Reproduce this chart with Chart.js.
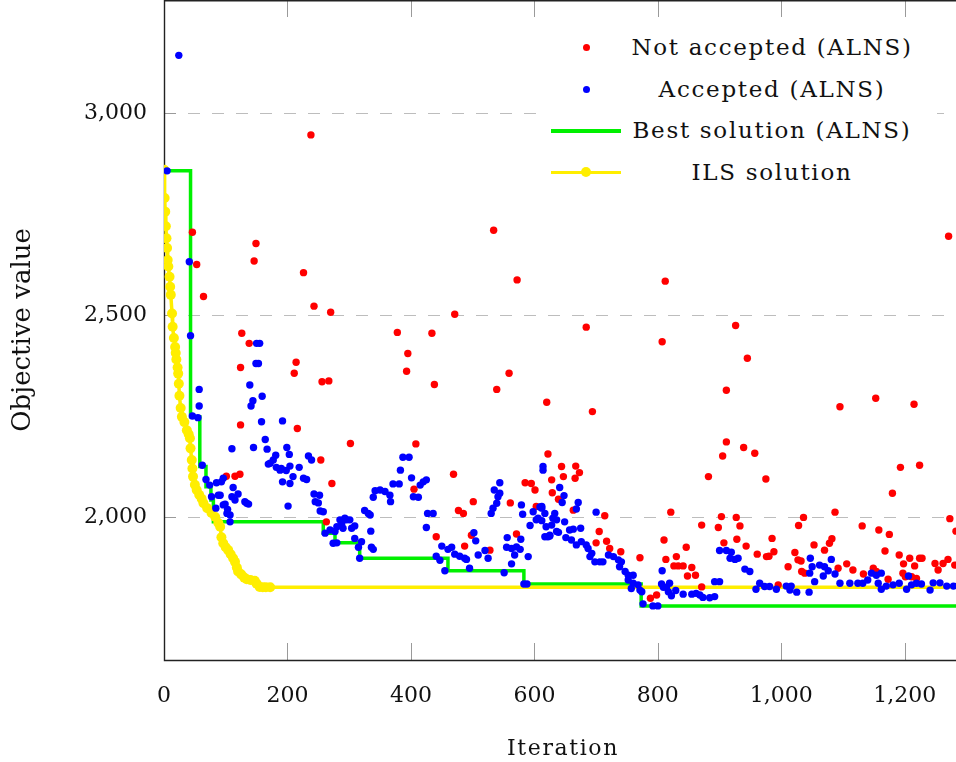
<!DOCTYPE html>
<html>
<head>
<meta charset="utf-8">
<script src="https://cdn.jsdelivr.net/npm/chart.js@4.4.1/dist/chart.umd.min.js"></script>
<style>
  body { margin: 0; background: #fff; }
  #wrap { position: relative; width: 956px; height: 762px; overflow: hidden; }
  #legend { position: absolute; left: 545px; top: 27px; width: 392px; height: 166px; background: #fff;
            font-family: "DejaVu Serif", serif; font-size: 23px; letter-spacing: 1.7px; color: #111; }
  .row { position: relative; height: 41.5px; }
  .key { position: absolute; left: 6px; width: 70px; top: 0; height: 100%; }
  .lab { position: absolute; left: 80px; width: 294px; top: 0; height: 100%; line-height: 41.5px; text-align: center; white-space: nowrap; }
  .dot { position: absolute; width: 7px; height: 7px; border-radius: 50%; left: 31.5px; top: 17.25px; }
  .line { position: absolute; left: 0; width: 70px; height: 3.5px; top: 19px; }
  .bigdot { position: absolute; width: 10px; height: 10px; border-radius: 50%; left: 30px; top: 15.75px; }
</style>
</head>
<body>
<div id="wrap">
  <canvas id="myChart" width="956" height="762"></canvas>
  <div id="legend">
    <div class="row"><span class="key"><span class="dot" style="background:#ff0000"></span></span><span class="lab">Not accepted (ALNS)</span></div>
    <div class="row"><span class="key"><span class="dot" style="background:#0000ff"></span></span><span class="lab">Accepted (ALNS)</span></div>
    <div class="row"><span class="key"><span class="line" style="background:#00f000"></span></span><span class="lab">Best solution (ALNS)</span></div>
    <div class="row"><span class="key"><span class="line" style="background:#ffee00"></span><span class="bigdot" style="background:#ffee00"></span></span><span class="lab">ILS solution</span></div>
  </div>
</div>
<script>
// [iteration, objective]
const notAccepted = [
    [238, 2946], [46, 2705], [53, 2625], [149, 2677], [146, 2634], [64, 2546], [226, 2605], [243, 2522],
    [270, 2507], [126, 2455], [138, 2430], [534, 2710], [572, 2587], [812, 2584], [1271, 2695],
    [124, 2370], [214, 2383], [211, 2356], [256, 2335], [267, 2337], [124, 2228], [216, 2219], [254, 2141],
    [302, 2182], [101, 2101], [115, 2101], [123, 2106], [272, 2083], [263, 1988],
    [471, 2502], [378, 2457], [434, 2455], [395, 2405], [393, 2361], [438, 2328], [559, 2356], [539, 2316],
    [620, 2284], [408, 2181], [469, 2106], [405, 2069], [501, 2038], [477, 2016], [485, 2009], [561, 2035],
    [441, 1951], [487, 1928], [498, 1955], [528, 1918], [571, 1958], [585, 2085], [595, 2083], [601, 2067],
    [603, 2026], [622, 2156],
    [684, 2470], [926, 2474], [807, 2434], [945, 2393], [911, 2314], [694, 2261], [911, 2186], [905, 2151],
    [939, 2172], [644, 2125], [647, 2100], [667, 2126], [673, 2110], [666, 2096], [628, 2092], [629, 2060],
    [882, 2100], [639, 2044], [663, 2017], [714, 2003], [821, 2012], [705, 1964], [717, 1940], [722, 1922],
    [740, 1914], [700, 1936], [771, 1899], [788, 1799], [798, 1807], [810, 1943], [813, 1895], [830, 1902],
    [846, 1925], [826, 1879], [833, 1879], [841, 1879], [855, 1875], [848, 1854], [861, 1856], [871, 1827],
    [871, 1980], [903, 2001], [898, 1974], [927, 1999], [933, 1978], [928, 1945], [943, 1928], [907, 1936],
    [1095, 2273], [1153, 2294], [1215, 2279], [957, 2158], [975, 2094], [1193, 2123], [1224, 2128], [1180, 2059],
    [1036, 1999], [1028, 1979], [1087, 2012], [1131, 1978], [1273, 1996], [1283, 1965], [1158, 1968], [1175, 1957],
    [1168, 1916], [961, 1908], [976, 1902], [980, 1903], [985, 1947], [988, 1914], [1053, 1931], [1070, 1918],
    [1078, 1935], [1082, 1946], [1022, 1912], [1027, 1894], [1032, 1891], [1011, 1877], [1033, 1865], [1038, 1861],
    [1092, 1873], [1106, 1884], [1116, 1869], [1133, 1859], [1191, 1906], [1198, 1884], [1208, 1898], [1216, 1879],
    [1224, 1898], [1228, 1898], [1211, 1852], [1219, 1848], [1197, 1861], [1201, 1852], [1173, 1846], [1249, 1885],
    [1254, 1869], [1262, 1885], [1270, 1895], [1281, 1881], [995, 1832], [1149, 1873], [1154, 1865]
];

const accepted = [
    [5, 2857], [24, 3143], [41, 2632], [43, 2449], [150, 2430], [155, 2430],
    [149, 2380], [153, 2380], [57, 2316], [139, 2327], [144, 2288], [141, 2275], [159, 2299], [57, 2275],
    [46, 2250], [55, 2246], [158, 2236], [192, 2238], [164, 2192], [110, 2169], [145, 2172], [167, 2168],
    [199, 2172], [203, 2155], [181, 2153], [177, 2141], [169, 2131], [234, 2151], [239, 2141], [62, 2128],
    [182, 2123], [190, 2120], [198, 2115], [204, 2126], [219, 2123], [209, 2100], [226, 2096], [231, 2093],
    [192, 2087], [204, 2083], [68, 2093], [74, 2079], [85, 2085], [93, 2087], [96, 2096], [112, 2073],
    [120, 2057], [110, 2050], [91, 2054], [77, 2050], [88, 2054], [115, 2042], [134, 2034], [131, 2038],
    [137, 2032], [96, 2030], [201, 2027], [243, 2057], [252, 2054], [245, 2038], [250, 2035], [253, 2015],
    [258, 2013], [84, 2022], [99, 2032], [103, 2019], [102, 2009], [107, 2005], [107, 1988], [261, 1960],
    [269, 1968], [280, 1976], [288, 1984], [296, 1993], [280, 1936], [172, 2133], [188, 2116],
    [387, 2148], [397, 2148], [383, 2116], [401, 2097], [420, 2087], [425, 2092], [415, 2079], [371, 2082],
    [381, 2082], [342, 2065], [350, 2067], [358, 2063], [366, 2054], [339, 2049], [367, 2038], [404, 2050],
    [412, 2049], [325, 2016], [331, 2009], [334, 2005], [427, 2009], [436, 2009], [425, 1974], [285, 1993],
    [293, 1997], [301, 1993], [290, 1972], [304, 1972], [309, 1978], [277, 1964], [274, 1935], [309, 1947],
    [320, 1939], [315, 1925], [335, 1965], [336, 1925], [339, 1920], [317, 1898], [502, 1961], [505, 1941],
    [450, 1928], [460, 1920], [466, 1925], [471, 1908], [479, 1903], [490, 1895], [487, 1898], [495, 1873],
    [455, 1867], [441, 1903], [447, 1893], [509, 1906], [520, 1917], [525, 1898], [551, 1862], [556, 1949],
    [555, 1925], [563, 1922], [571, 1926], [577, 1920], [578, 1945], [568, 1906], [563, 1884], [590, 1902],
    [583, 1834], [588, 1834], [530, 2009], [533, 2022], [539, 2034], [541, 2050], [544, 2059], [535, 2067],
    [544, 2085], [579, 2030], [581, 2007], [593, 1979], [598, 2013], [606, 1997], [612, 2022], [617, 2009],
    [614, 2125], [614, 2116], [619, 1976], [617, 1951], [609, 2025], [625, 1955], [633, 2009], [636, 1964],
    [641, 2073], [648, 2053], [645, 2036], [671, 2036], [668, 2020], [612, 2026], [603, 1993], [612, 1991],
    [630, 1997], [636, 1993], [628, 1980], [700, 2012], [625, 1953], [622, 1951], [639, 1962], [649, 1988],
    [651, 1949], [657, 1968], [663, 1970], [675, 1972], [660, 1943], [668, 1931], [676, 1939], [684, 1931],
    [687, 1922], [693, 1910], [690, 1902], [698, 1889], [706, 1889], [711, 1889], [720, 1906], [728, 1902],
    [736, 1894], [741, 1889], [738, 1877], [747, 1865], [752, 1856], [760, 1856], [752, 1844], [760, 1836],
    [768, 1832], [771, 1819], [757, 1823], [774, 1815], [776, 1785], [792, 1780], [800, 1780], [807, 1867],
    [806, 1834], [814, 1826], [819, 1836], [817, 1815], [809, 1826], [822, 1805], [829, 1818], [841, 1809],
    [855, 1809], [862, 1811], [868, 1807], [873, 1801], [884, 1800], [892, 1803], [892, 1840], [900, 1840],
    [900, 1917], [911, 1917], [919, 1913], [917, 1898], [925, 1895], [930, 1898], [941, 1871], [949, 1865],
    [959, 1821], [965, 1836], [973, 1828], [981, 1828], [992, 1821], [1008, 1829], [1016, 1829], [1014, 1819],
    [1025, 1814], [1045, 1814], [1047, 1898], [1050, 1877], [1062, 1881], [1070, 1877], [1046, 1861], [1054, 1840],
    [1068, 1854], [1081, 1895], [1076, 1867], [1087, 1859], [1095, 1836], [1111, 1836], [1124, 1836], [1132, 1836],
    [1140, 1844], [1146, 1861], [1154, 1856], [1162, 1861], [1157, 1836], [1162, 1821], [1170, 1829], [1181, 1832],
    [1191, 1836], [1203, 1821], [1206, 1854], [1211, 1832], [1219, 1836], [1227, 1834], [1241, 1819], [1246, 1837],
    [1257, 1837], [1268, 1829], [1279, 1829]
];

// best solution so far: [iteration where it improves, new value]
const bestIter = [0, 43, 58, 68, 76, 80, 258, 277, 317, 460, 583, 773, 1300];
const bestObj = [2857, 2248, 2125, 2075, 2042, 1988, 1960, 1936, 1898, 1867, 1834, 1780, 1780];

const ilsIter = [0, 1, 2, 3, 4, 5, 6, 7, 9, 10, 11, 13, 14, 16, 18, 19, 20, 22, 23, 24, 25, 27, 29, 33, 37,
    40, 42, 43, 45, 46, 47, 50, 53, 57, 61, 64, 70, 77, 83, 88, 91, 93, 96, 100, 104, 108, 112, 115, 118,
    120, 125, 130, 134, 140, 147, 150, 155, 160, 165, 172, 1300];
const ilsObj = [2860, 2790, 2756, 2720, 2690, 2666, 2636, 2620, 2595, 2570, 2550, 2504, 2471, 2443, 2421, 2406,
    2390, 2370, 2355, 2330, 2300, 2270, 2248, 2235, 2215, 2205, 2195, 2170, 2141, 2120, 2100, 2080, 2067,
    2055, 2045, 2034, 2022, 2010, 2000, 1985, 1976, 1950, 1935, 1925, 1918, 1908, 1898, 1889, 1875, 1865,
    1858, 1850, 1846, 1844, 1842, 1835, 1827, 1826, 1826, 1826, 1826];

const xTicks = [0, 200, 400, 600, 800, 1000, 1200];
const yTicks = [2000, 2500, 3000];
const xTitle = 'Iteration';
const yTitle = 'Objective value';

const FONT = { family: 'DejaVu Serif', size: 22 };

const toXY = (xs, ys) => xs.map((x, i) => ({ x: x, y: ys[i] }));

const frame = {
    id: 'frame',
    beforeDatasetsDraw(chart) {
        const { ctx, chartArea: a, scales } = chart;
        ctx.save();
        ctx.strokeStyle = '#9a9a9a';
        ctx.lineWidth = 1;
        ctx.beginPath();
        xTicks.forEach((v) => {
            const px = Math.round(scales.x.getPixelForValue(v)) + 0.5;
            ctx.moveTo(px, a.bottom);
            ctx.lineTo(px, a.bottom - 17);
            ctx.moveTo(px, a.top);
            ctx.lineTo(px, a.top + 17);
        });
        yTicks.forEach((v) => {
            const py = Math.round(scales.y.getPixelForValue(v)) + 0.5;
            ctx.moveTo(a.left, py);
            ctx.lineTo(a.left + 12, py);
        });
        ctx.stroke();
        ctx.strokeStyle = '#222';
        ctx.lineWidth = 1.4;
        ctx.beginPath();
        ctx.moveTo(a.left + 0.5, a.top);
        ctx.lineTo(a.left + 0.5, a.bottom + 0.5);
        ctx.lineTo(a.right, a.bottom + 0.5);
        ctx.moveTo(a.left, a.top + 0.7);
        ctx.lineTo(a.right, a.top + 0.7);
        ctx.stroke();
        ctx.restore();
    },
    afterDraw(chart) {
        const { ctx, chartArea: a } = chart;
        ctx.save();
        ctx.font = '22px "DejaVu Serif"';
        ctx.letterSpacing = '1.6px';
        ctx.fillStyle = '#111';
        ctx.textAlign = 'center';
        ctx.textBaseline = 'alphabetic';
        ctx.fillText(xTitle, (a.left + a.right) / 2 + 3, 755);
        ctx.restore();
    }
};

const ctx = document.getElementById('myChart').getContext('2d');
new Chart(ctx, {
    type: 'scatter',
    data: {
        datasets: [
            {
                label: 'Accepted (ALNS)',
                data: accepted.map((p) => ({ x: p[0], y: p[1] })),
                backgroundColor: '#0000ff',
                borderWidth: 0,
                pointRadius: 3.7,
            },
            {
                label: 'Not accepted (ALNS)',
                data: notAccepted.map((p) => ({ x: p[0], y: p[1] })),
                backgroundColor: '#ff0000',
                borderWidth: 0,
                pointRadius: 3.7,
            },
            {
                label: 'ILS solution',
                data: toXY(ilsIter, ilsObj),
                showLine: true,
                borderColor: '#ffee00',
                backgroundColor: '#ffee00',
                borderWidth: 3.5,
                pointBorderWidth: 0,
                pointRadius: ilsIter.map((x, i) => (i === ilsIter.length - 1 ? 0 : 5)),
            },
            {
                label: 'Best solution (ALNS)',
                data: toXY(bestIter, bestObj),
                showLine: true,
                stepped: 'before',
                borderColor: '#00f000',
                borderWidth: 3.5,
                pointRadius: 0,
            },
        ],
    },
    options: {
        responsive: false,
        animation: false,
        layout: { padding: 0, autoPadding: false },
        plugins: { legend: { display: false }, tooltip: { enabled: false } },
        scales: {
            x: {
                type: 'linear',
                min: 0,
                max: 1283,
                grid: { display: false },
                border: { display: false },
                afterBuildTicks: (s) => { s.ticks = xTicks.map((v) => ({ value: v })); },
                afterFit: (s) => { s.height = 102; s.paddingLeft = 0; s.paddingRight = 0; },
                ticks: { font: FONT, color: '#111', padding: 15 },
            },
            y: {
                type: 'linear',
                min: 1646,
                max: 3280,
                grid: { color: '#bdbdbd', lineWidth: 1, drawTicks: false },
                border: { display: false, dash: [12, 12] },
                afterBuildTicks: (s) => { s.ticks = yTicks.map((v) => ({ value: v })); },
                afterFit: (s) => { s.width = 164; s.paddingTop = 0; s.paddingBottom = 0; },
                ticks: { font: FONT, color: '#111', padding: 17 },
                title: { display: true, text: yTitle, font: { family: 'DejaVu Serif', size: 26 }, color: '#111', padding: { top: 8, bottom: 0 } },
            },
        },
    },
    plugins: [frame],
});
</script>
</body>
</html>
